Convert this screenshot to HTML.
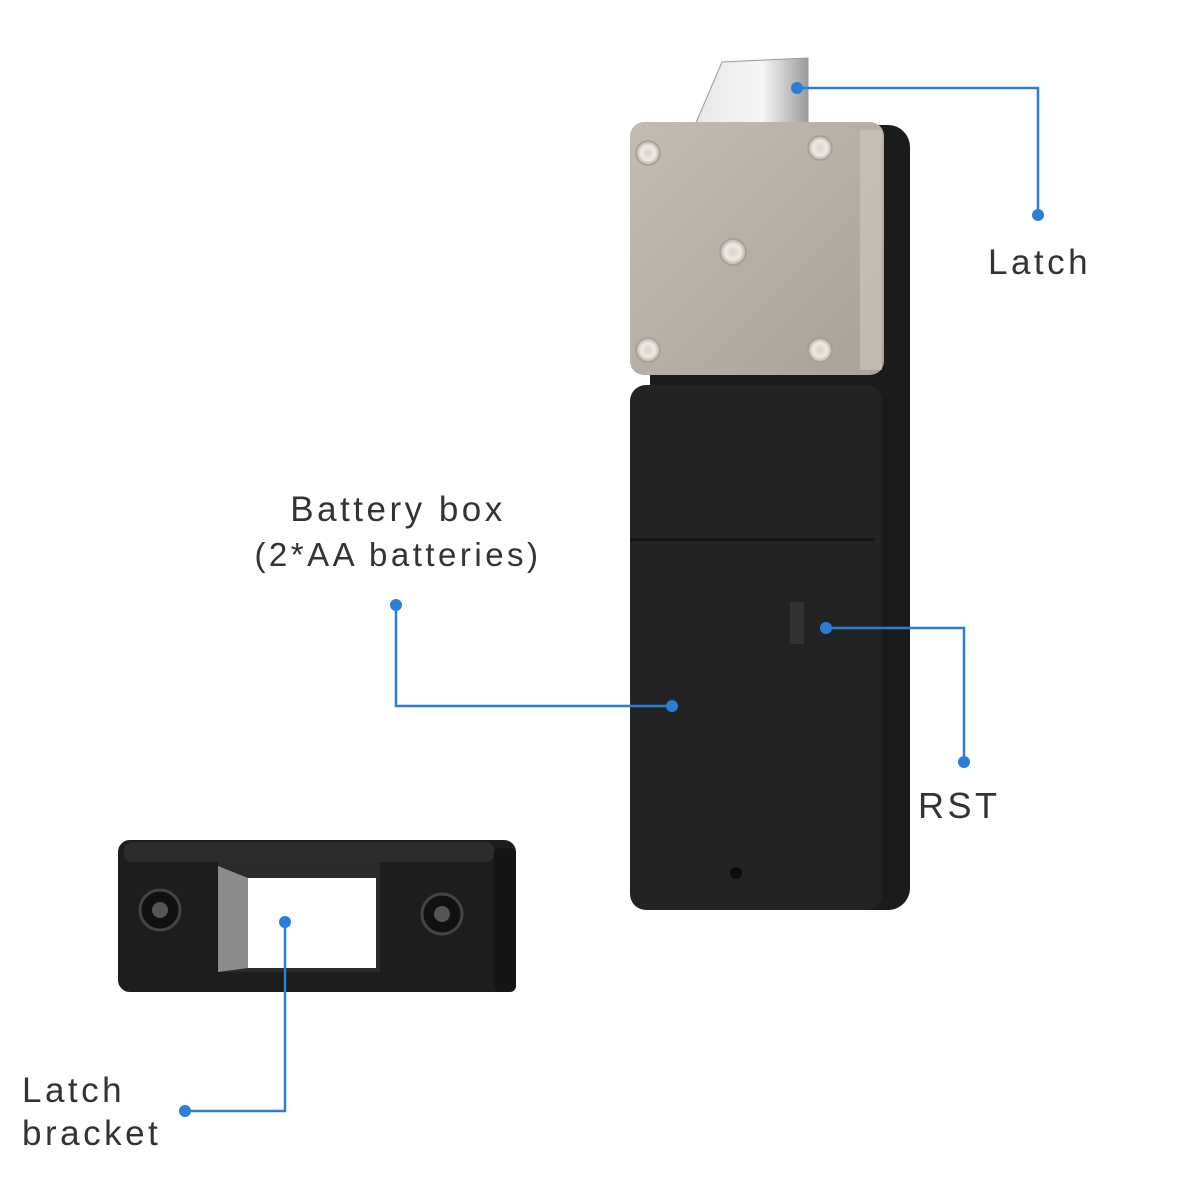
<!DOCTYPE html>
<html><head><style>html,body{margin:0;padding:0;background:#fff}svg{display:block}text{font-family:"Liberation Sans",sans-serif;fill:#333;letter-spacing:3.5px}</style></head><body>
<svg width="1200" height="1200" viewBox="0 0 1200 1200">
<defs>
<linearGradient id="pl" x1="0" y1="0" x2="1" y2="1"><stop offset="0" stop-color="#c4bcb2"/><stop offset="1" stop-color="#aaa197"/></linearGradient>
<linearGradient id="tab" x1="0" y1="0" x2="1" y2="0"><stop offset="0" stop-color="#e8e8e8"/><stop offset=".6" stop-color="#f6f6f6"/><stop offset="1" stop-color="#9a9a9a"/></linearGradient>
<radialGradient id="sc"><stop offset="0" stop-color="#d8d2ca"/><stop offset=".6" stop-color="#efeae4"/><stop offset="1" stop-color="#b5ada3"/></radialGradient>
</defs>
<rect x="650" y="125" width="260" height="785" rx="22" fill="#1b1b1b"/>
<polygon points="722,62 808,58 808,125 695,125" fill="url(#tab)" stroke="#999" stroke-width="1"/>
<rect x="630" y="122" width="254" height="253" rx="14" fill="url(#pl)"/>
<rect x="860" y="130" width="22" height="240" fill="#cfc9c1" opacity=".6"/>
<g fill="url(#sc)" stroke="#a69d92" stroke-width="1.5">
<circle cx="648" cy="153" r="12"/><circle cx="820" cy="148" r="12"/><circle cx="733" cy="252" r="13"/><circle cx="648" cy="350" r="12"/><circle cx="820" cy="350" r="12"/></g>
<rect x="630" y="385" width="252" height="525" rx="16" fill="#232323"/>
<rect x="630" y="538" width="245" height="3" fill="#151515"/>
<rect x="790" y="602" width="14" height="42" fill="#333"/>
<circle cx="736" cy="873" r="6" fill="#0c0c0c"/>
<rect x="118" y="840" width="398" height="152" rx="12" fill="#1d1d1d"/>
<rect x="124" y="842" width="370" height="20" rx="8" fill="#2c2c2c"/>
<rect x="494" y="848" width="22" height="144" rx="6" fill="#151515"/>
<polygon points="218,862 380,862 380,972 218,972" fill="#2a2a2a"/>
<polygon points="218,866 248,878 248,968 218,972" fill="#8c8c8c"/>
<rect x="248" y="878" width="128" height="90" fill="#fff"/>
<circle cx="160" cy="910" r="20" fill="#111" stroke="#444" stroke-width="3"/><circle cx="160" cy="910" r="8" fill="#555"/>
<circle cx="442" cy="914" r="20" fill="#111" stroke="#444" stroke-width="3"/><circle cx="442" cy="914" r="8" fill="#555"/>
<g stroke="#2a7fd4" stroke-width="2.5" fill="none">
<polyline points="797,88 1038,88 1038,215"/>
<polyline points="396,605 396,706 672,706"/>
<polyline points="826,628 964,628 964,762"/>
<polyline points="285,922 285,1111 185,1111"/>
</g>
<g fill="#2a7fd4">
<circle cx="797" cy="88" r="6"/><circle cx="1038" cy="215" r="6"/>
<circle cx="396" cy="605" r="6"/><circle cx="672" cy="706" r="6"/>
<circle cx="826" cy="628" r="6"/><circle cx="964" cy="762" r="6"/>
<circle cx="285" cy="922" r="6"/><circle cx="185" cy="1111" r="6"/>
</g>
<text x="988" y="274" font-size="35">Latch</text>
<text x="398" y="521" font-size="35" text-anchor="middle">Battery box</text>
<text x="398" y="566" font-size="33" text-anchor="middle">(2*AA batteries)</text>
<text x="918" y="818" font-size="36">RST</text>
<text x="22" y="1102" font-size="35">Latch</text>
<text x="22" y="1145" font-size="35">bracket</text>
</svg>
</body></html>
